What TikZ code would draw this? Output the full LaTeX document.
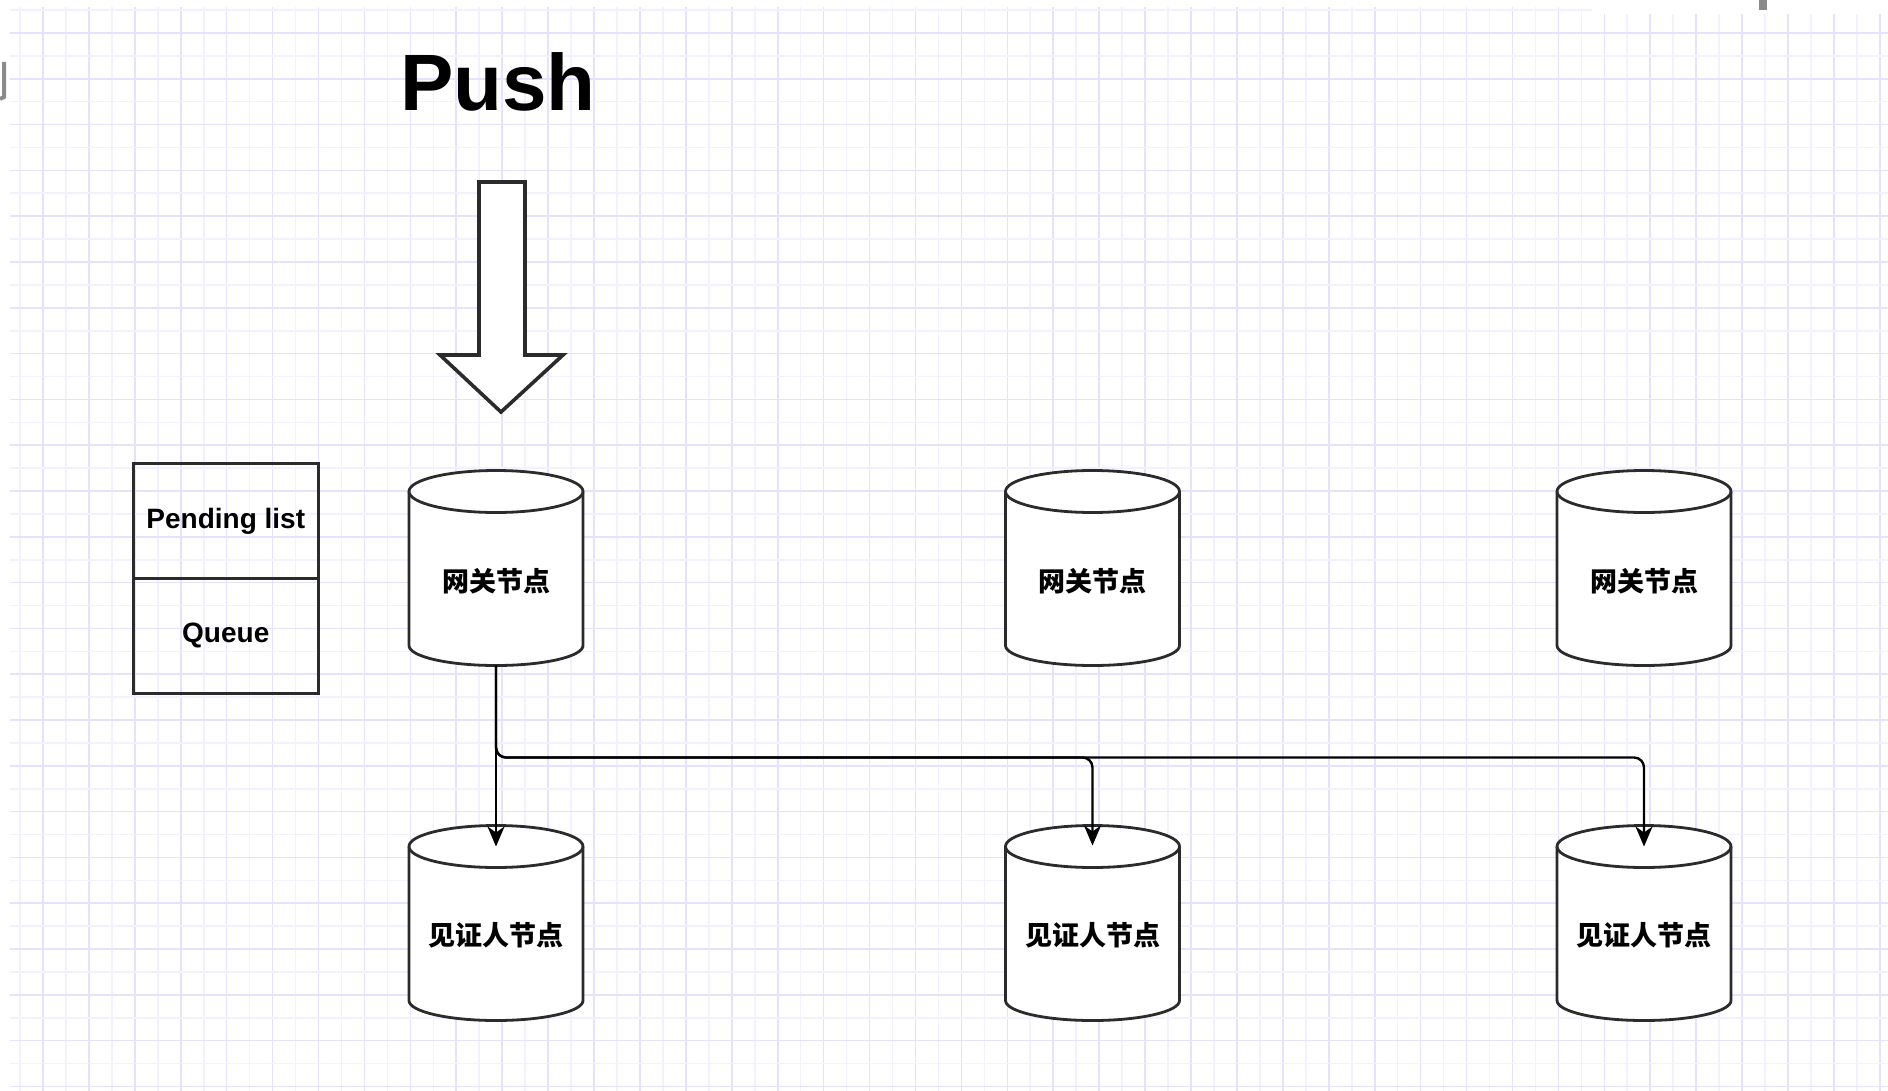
\documentclass[tikz,border=0pt]{standalone}
\usepackage{fontspec}
\setmainfont{Liberation Sans}
\newfontfamily\cjk{Noto Sans CJK SC}
\usetikzlibrary{arrows.meta,calc}
\definecolor{gridmaj}{HTML}{E4E2FF}
\definecolor{gridmin}{HTML}{F1F1FF}
\definecolor{ink}{HTML}{2B2B2B}
\definecolor{uigray}{HTML}{8A8A8A}
\tikzset{
 cylbody/.style={draw=none, minimum width=87pt, minimum height=97.5pt, inner sep=0pt, outer sep=0pt},
 cyltext/.style={font=\cjk\bfseries\fontsize{13.5pt}{16pt}\selectfont, inner sep=0pt},
 listcell/.style={draw=ink, line width=1.5pt, minimum width=92.25pt, minimum height=57.4pt, inner sep=0pt,
   font=\bfseries\fontsize{14pt}{17pt}\selectfont},
 cylline/.style={draw=ink, line width=1.4pt, fill=white},
 conn/.style={draw=black, line width=1.2pt, -{Stealth[length=10pt,width=8.5pt,inset=3pt]}},
 bigarrow/.style={draw=ink, line width=1.8pt, fill=white, line join=miter},
 pushtext/.style={font=\bfseries\fontsize{40pt}{48pt}\selectfont, inner sep=0pt, anchor=base},
}
\newcommand\cylout[1]{%
 \path[cylline] ([yshift=-10.5pt]#1.north west) -- ([yshift=10pt]#1.south west)
   arc[start angle=180,end angle=360,x radius=43.5pt,y radius=10pt]
   -- ([yshift=-10.5pt]#1.north east)
   arc[start angle=0,end angle=180,x radius=43.5pt,y radius=10.5pt] -- cycle;
 \draw[cylline, fill=none] ([yshift=-10.5pt]#1.north west)
   arc[start angle=180,end angle=360,x radius=43.5pt,y radius=10.5pt];}
\begin{document}
\begin{tikzpicture}[x=0.5pt,y=0.5pt]
\useasboundingbox (0,0) rectangle (1888,-1091);
\fill[white] (0,0) rectangle (1888,-1091);
% grid
\begin{scope}
\clip (10,-7) rectangle (1888,-1091);
\foreach \k in {-1,...,80}{%
  \ifodd\k\relax\def\gc{gridmin}\else\def\gc{gridmaj}\fi
  \draw[\gc, line width=0.8pt] ({43+22.96*\k},-7) -- ({43+22.96*\k},-1091);}
\foreach \k in {-1,...,46}{%
  \ifodd\k\relax\def\gc{gridmin}\else\def\gc{gridmaj}\fi
  \draw[\gc, line width=0.8pt] (10,{-33-22.9*\k}) -- (1888,{-33-22.9*\k});}
\end{scope}
\fill[white] (1592,-6) rectangle (1888,-14);
\fill[uigray] (1759,0) rectangle (1767,-10);
\draw[uigray, line width=2pt] (4,-62) -- (4,-97) -- (0,-99);

% title and push arrow
\node[pushtext] (push) at (498,-111) {Push};
\draw[bigarrow] (479,-182) -- (525,-182) -- (525,-355) -- (563,-355) -- (501,-412)
  -- (440,-355) -- (479,-355) -- cycle;

% pending list / queue
\node[listcell] (pl) at (225.75,-521) {Pending list};
\node[listcell] (q) at (225.75,-635.7) {Queue};

% cylinders
\node[cylbody] (g1) at (496,-568) {};
\node[cylbody] (g2) at (1092.5,-568) {};
\node[cylbody] (g3) at (1644,-568) {};
\node[cylbody] (w1) at (496,-923) {};
\node[cylbody] (w2) at (1092.5,-923) {};
\node[cylbody] (w3) at (1644,-923) {};
\cylout{g1}\cylout{g2}\cylout{g3}\cylout{w1}\cylout{w2}\cylout{w3}
\node[cyltext] (g1t) at (496,-581) {网关节点};
\node[cyltext] (g2t) at (1092.5,-581) {网关节点};
\node[cyltext] (g3t) at (1644,-581) {网关节点};
\node[cyltext] (w1t) at (496,-935) {见证人节点};
\node[cyltext] (w2t) at (1092.5,-935) {见证人节点};
\node[cyltext] (w3t) at (1644,-935) {见证人节点};

% connectors
\draw[conn] (g1.south) -- ([yshift=-10.5pt]w1.north);
\draw[conn, rounded corners=5pt] (g1.south) -- ++(0,-46pt) -| ([yshift=-10pt]w2.north);
\draw[conn, rounded corners=5pt] (g1.south) -- ++(0,-46pt) -| ([yshift=-10.5pt]w3.north);
\end{tikzpicture}
\end{document}
